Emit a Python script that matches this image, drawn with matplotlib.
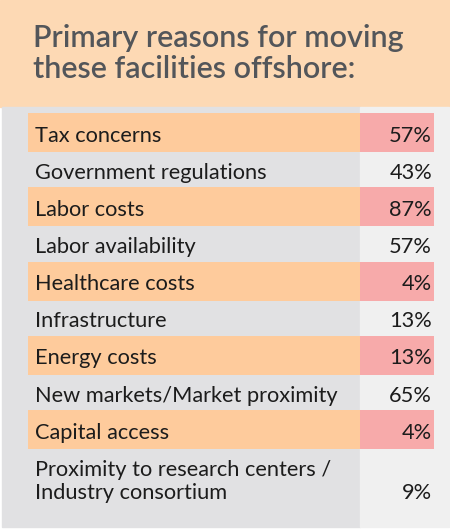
import matplotlib
matplotlib.use("Agg")
import matplotlib.pyplot as plt
from matplotlib.patches import Rectangle

title_lines = ["Primary reasons for moving", "these facilities offshore:"]
reasons = [
    "Tax concerns",
    "Government regulations",
    "Labor costs",
    "Labor availability",
    "Healthcare costs",
    "Infrastructure",
    "Energy costs",
    "New markets/Market proximity",
    "Capital access",
    "Proximity to research centers /\nIndustry consortium",
]
percents = [57, 43, 87, 57, 4, 13, 13, 65, 4, 9]
highlighted = [True, False, True, False, True, False, True, False, True, False]

HEADER = "#FDD9B4"
PANEL = "#E1E1E3"
VALCOL = "#F0F0F0"
PEACH = "#FECB9C"
PINK = "#F7AAAA"
TEXT = "#1c1c1c"
TITLE_C = "#53565a"

plt.rcParams['font.family'] = ['Lato', 'DejaVu Sans']

fig = plt.figure(figsize=(4.5, 5.3), dpi=100)
ax = fig.add_axes([0, 0, 1, 1])
ax.set_xlim(0, 450)
ax.set_ylim(530, 0)
ax.axis('off')

# backgrounds
ax.add_patch(Rectangle((0, 0), 450, 107, color=HEADER, zorder=0))
ax.add_patch(Rectangle((2, 107), 358, 420, color=PANEL, zorder=0))
ax.add_patch(Rectangle((360, 107), 89, 420, color=VALCOL, zorder=0))

for k, line in enumerate(title_lines):
    ax.text(33, 47 + 31 * k, line, fontsize=22, color=TITLE_C,
            fontweight=600, va='baseline', ha='left')

# row centres (last row holds two lines, so it sits lower)
ys = [132.5 + 37.15 * i for i in range(len(reasons))]
ys[-1] += 12

hl_y = [y for y, h in zip(ys, highlighted) if h]
ax.barh(hl_y, 332, left=28, height=39, color=PEACH, zorder=1)
ax.barh(hl_y, 74, left=360, height=39, color=PINK, zorder=1)

for lab, pct, y in zip(reasons, percents, ys):
    lines = lab.split('\n')
    base = y + 9 - 11.5 * (len(lines) - 1)
    for j, ln in enumerate(lines):
        ax.text(35, base + 23 * j, ln, fontsize=15.7, color=TEXT,
                va='baseline', ha='left', zorder=2)
    ax.text(432, base + 23 * (len(lines) - 1), f"{pct}%", fontsize=15.7,
            color=TEXT, va='baseline', ha='right', zorder=2)

fig.savefig("out.png", dpi=100)
